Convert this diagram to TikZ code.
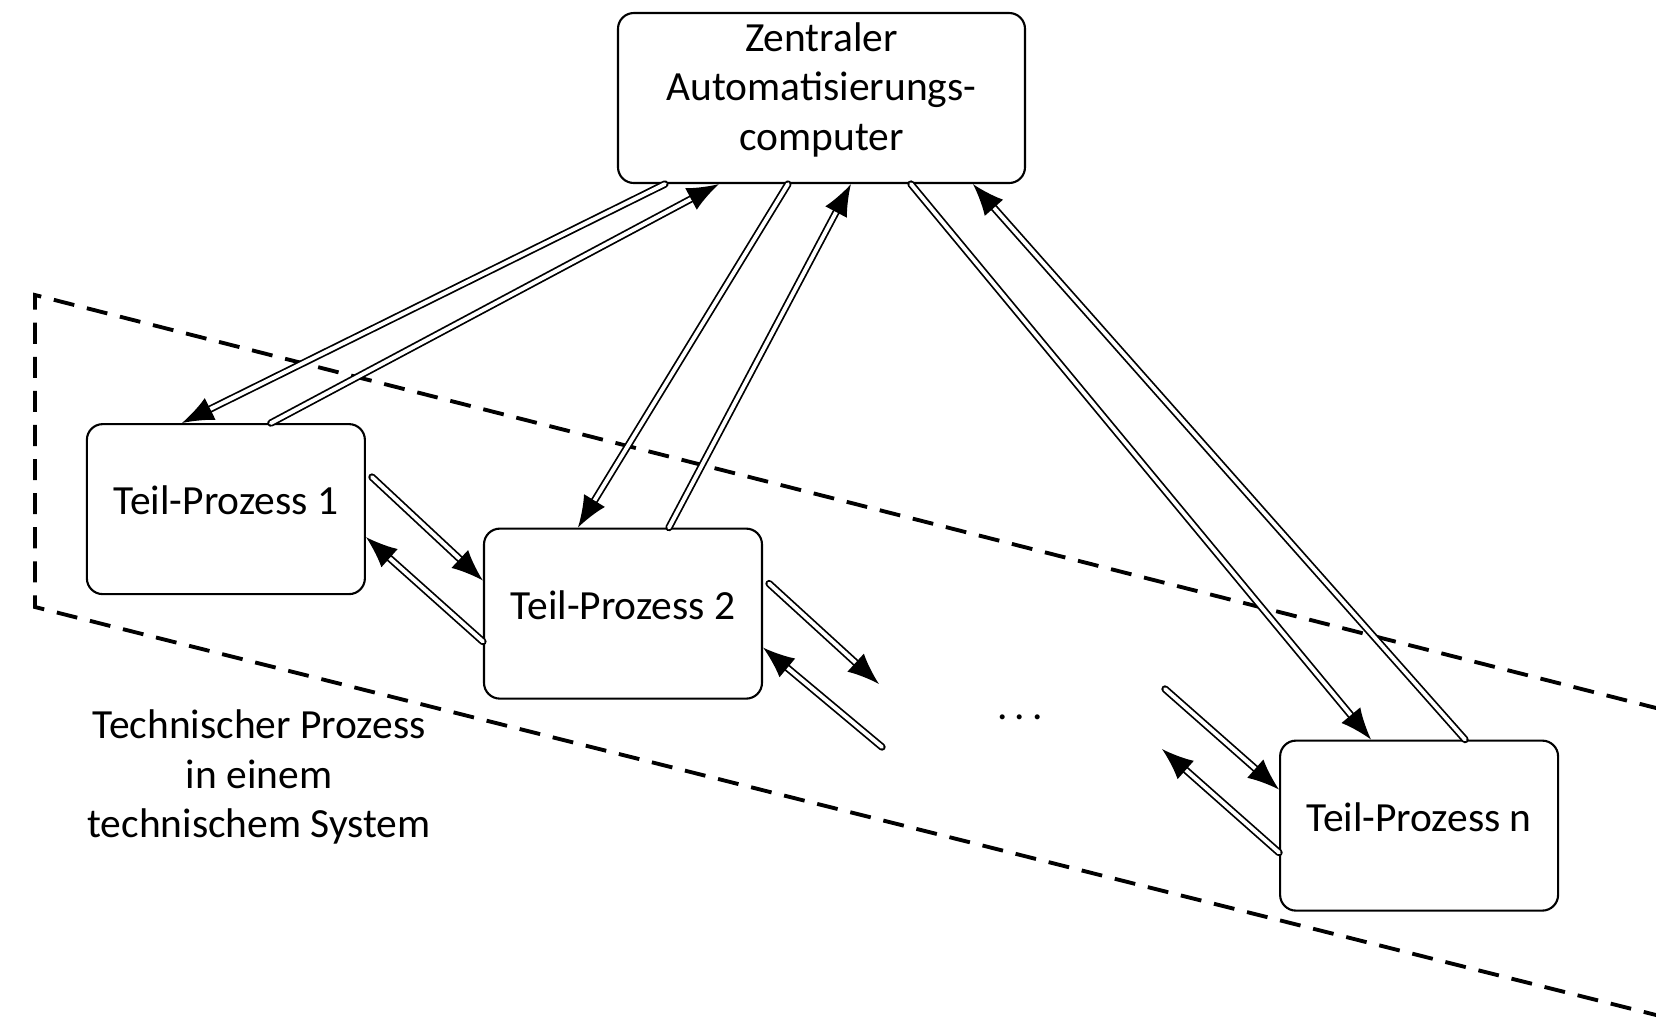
\documentclass[tikz,border=0pt]{standalone}
\usepackage{fontspec}
\setmainfont{Carlito}
\usetikzlibrary{arrows.meta, positioning}

\begin{document}
\begin{tikzpicture}[
    proc/.style={rectangle, draw, line width=0.6pt, rounded corners=4.5pt,
                 minimum width=2.78cm, minimum height=1.70cm, text depth=5pt},
    link/.style={double, double distance=1.1pt, line width=0.5pt,
                 line cap=round, -{Latex[length=9pt, width=7pt]}},
    sysline/.style={line width=1.1pt, dash pattern=on 6pt off 3.7pt},
    font=\fontsize{11.8}{14.1}\selectfont]
    \useasboundingbox (0,0) rectangle (16.56,-10.21);

    % computer and sub-processes
    \node[proc, minimum width=4.07cm, align=center, inner sep=1pt, text depth=6.7pt] (zac)
          at (8.215,-0.98)
          {Zentraler\\Automatisierungs-\\computer};

    \node[proc] (tp1) [below left=2.39cm and 2.51cm of zac] {Teil-Prozess 1};
    \node[proc] (tp2) [right=1.17cm of tp1, yshift=-1.045cm] {Teil-Prozess 2};
    \node[proc] (tpn) [right=5.16cm of tp2, yshift=-2.12cm] {Teil-Prozess n};

    \node (dots) at (10.20,-7.17) {.\,.\,.};

    \node[align=center] (tsys) at (2.59,-7.77)
          {Technischer Prozess\\in einem\\technischem System};

    % system boundary
    \coordinate (b_1) at (16.60,-7.09);
    \coordinate (b_2) at (0.35,-2.95);
    \coordinate (b_3) at (0.35,-6.07);
    \coordinate (b_4) at (16.60,-10.16);
    \draw[sysline] (b_1) -- (b_2) -- (b_3) -- (b_4);

    % free ends between tp2 and tpn
    \coordinate (e_1) at (8.79,-6.84);
    \coordinate (e_2) at (8.82,-7.47);
    \coordinate (e_3) at (11.65,-6.89);
    \coordinate (e_4) at (11.62,-7.49);

    \draw[link] ([xshift=0.48cm]zac.south west) -- ([xshift=0.96cm]tp1.north west);
    \draw[link] ([xshift=1.85cm]tp1.north west) -- ([xshift=1.02cm]zac.south west);

    \draw[link] ([xshift=1.71cm]zac.south west) -- ([xshift=0.95cm]tp2.north west);
    \draw[link] ([xshift=1.86cm]tp2.north west) -- ([xshift=2.34cm]zac.south west);

    \draw[link] ([xshift=2.94cm]zac.south west) -- ([xshift=0.92cm]tpn.north west);
    \draw[link] ([xshift=1.86cm]tpn.north west) -- ([xshift=3.56cm]zac.south west);

    \draw[link] ([shift={(0.06cm,-0.54cm)}]tp1.north east) -- ([yshift=-0.53cm]tp2.north west);
    \draw[link] ([yshift=-1.14cm]tp2.north west) -- ([yshift=-1.14cm]tp1.north east);

    \draw[link] ([shift={(0.06cm,-0.56cm)}]tp2.north east) -- (e_1);
    \draw[link] (e_2) -- ([yshift=-1.20cm]tp2.north east);

    \draw[link] (e_3) -- ([yshift=-0.50cm]tpn.north west);
    \draw[link] ([yshift=-1.13cm]tpn.north west) -- (e_4);

\end{tikzpicture}
\end{document}
